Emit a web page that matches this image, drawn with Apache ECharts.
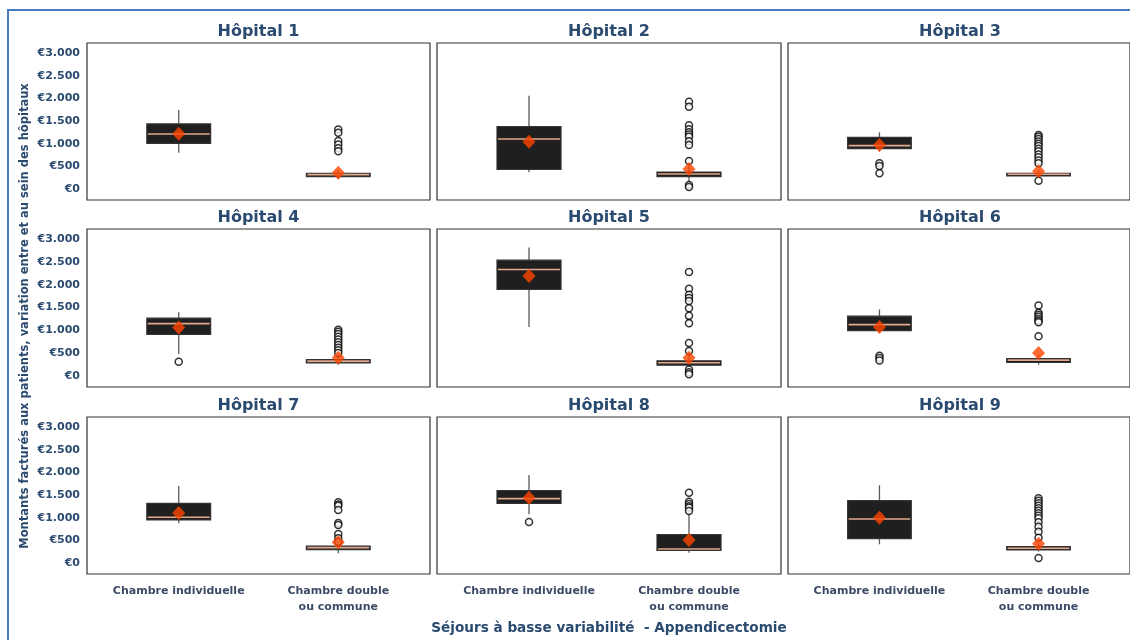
<!DOCTYPE html>
<html>
<head>
<meta charset="utf-8">
<script src="https://cdn.jsdelivr.net/npm/echarts@6/dist/echarts.min.js"></script>
<style>
  html, body { margin: 0; padding: 0; background: #ffffff; }
  #chart { width: 1130px; height: 640px; }
</style>
</head>
<body>
<div id="chart"></div>
<script>
// Hospitals shown in a 3x3 grid
const hospitals = ['Hôpital 1', 'Hôpital 2', 'Hôpital 3', 'Hôpital 4', 'Hôpital 5',
                   'Hôpital 6', 'Hôpital 7', 'Hôpital 8', 'Hôpital 9'];
const categories = ['Chambre individuelle', 'Chambre double\nou commune'];
const yTicks = [0, 500, 1000, 1500, 2000, 2500, 3000];

// Box statistics per hospital: [whisker low, Q1, median, Q3, whisker high]
const boxIndividuelle = [
  [801, 1008, 1213, 1434, 1743],
  [368, 434, 1103, 1375, 2058],
  [830, 890, 956, 1140, 1250],
  [478, 911, 1147, 1265, 1397],
  [1074, 1897, 2331, 2537, 2817],
  [941, 993, 1125, 1309, 1456],
  [876, 949, 1008, 1317, 1699],
  [1074, 1317, 1419, 1595, 1941],
  [412, 537, 971, 1375, 1713]
];
const boxDouble = [
  [220, 272, 316, 346, 420],
  [160, 272, 331, 375, 520],
  [240, 287, 324, 346, 420],
  [243, 287, 324, 360, 440],
  [180, 236, 287, 331, 460],
  [244, 294, 346, 382, 470],
  [213, 294, 338, 375, 440],
  [228, 280, 309, 625, 1096],
  [250, 287, 324, 360, 440]
];

// Mean amounts per hospital
const meanIndividuelle = [1220, 1044, 970, 1059, 2191, 1074, 1103, 1441, 1000];
const meanDouble = [360, 441, 390, 397, 397, 500, 456, 507, 426];

// Outlying stays per hospital
const outliersIndividuelle = [
  [],
  [],
  [566, 507, 346],
  [309],
  [],
  [440, 390, 340],
  [],
  [904],
  []
];
const outliersDouble = [
  [1310, 1240, 1060, 980, 900, 830],
  [1926, 1816, 1405, 1317, 1250, 1200, 1150, 1052, 970, 618, 88, 44],
  [1190, 1150, 1100, 1050, 1000, 950, 890, 830, 760, 700, 630, 570, 180],
  [1010, 970, 920, 860, 800, 740, 680, 620, 560, 500],
  [2279, 1912, 1780, 1710, 1640, 1485, 1316, 1154, 722, 546, 140, 81, 37],
  [1544, 1383, 1340, 1295, 1250, 1210, 1177, 867],
  [1339, 1290, 1265, 1169, 882, 838, 640, 544, 470],
  [1551, 1353, 1300, 1250, 1221, 1147],
  [1427, 1370, 1317, 1260, 1206, 1150, 1096, 1040, 985, 897, 801, 691, 559, 110]
];

const FONT = 'DejaVu Sans';
const NAVY = '#2b4a70';
const colLeft = [87, 437, 788];
const colWidth = [343, 344, 344];
const rowTop = [43, 229, 417];
const rowHeight = [157, 158, 157];

const fmtEuro = v => '€' + String(v).replace(/\B(?=(\d{3})+(?!\d))/g, '.');

const grids = [], xAxes = [], yAxes = [], series = [], titles = [];

hospitals.forEach((name, i) => {
  const r = Math.floor(i / 3), c = i % 3;
  grids.push({
    left: colLeft[c], top: rowTop[r], width: colWidth[c], height: rowHeight[r],
    show: true, borderColor: '#333333', borderWidth: 1.2, backgroundColor: '#ffffff'
  });
  xAxes.push({
    type: 'value', gridIndex: i, min: -0.575, max: 1.575,
    axisLine: { show: false }, axisTick: { show: false }, splitLine: { show: false },
    axisLabel: {
      show: r === 2, customValues: [0, 1], margin: 9,
      formatter: v => categories[Math.round(v)] || '',
      fontFamily: FONT, fontWeight: 'bold', fontSize: 11, color: '#3b4a66', lineHeight: 16
    }
  });
  yAxes.push({
    type: 'value', gridIndex: i, min: -243, max: 3220,
    axisLine: { show: false }, axisTick: { show: false }, splitLine: { show: false },
    axisLabel: {
      show: c === 0, customValues: yTicks, margin: 7, formatter: fmtEuro,
      fontFamily: FONT, fontWeight: 'bold', fontSize: 11, color: NAVY
    }
  });
  titles.push({
    text: name, left: colLeft[c] + colWidth[c] / 2, top: rowTop[r] - 19, textAlign: 'center',
    padding: 0,
    textStyle: { fontFamily: FONT, fontWeight: 'bold', fontSize: 16, color: NAVY }
  });

  // Boxes with whiskers (no caps) and median line
  series.push({
    type: 'custom', xAxisIndex: i, yAxisIndex: i, z: 2,
    encode: { x: 0, y: [1, 2, 3, 4, 5] },
    data: [[0].concat(boxIndividuelle[i]), [1].concat(boxDouble[i])],
    renderItem: (params, api) => {
      const x = api.value(0);
      const pMin = api.coord([x, api.value(1)]);
      const pQ1 = api.coord([x, api.value(2)]);
      const pMed = api.coord([x, api.value(3)]);
      const pQ3 = api.coord([x, api.value(4)]);
      const pMax = api.coord([x, api.value(5)]);
      const w = api.size([0.4, 0])[0];
      const cx = pQ1[0];
      return {
        type: 'group',
        children: [
          { type: 'line', shape: { x1: cx, y1: pQ3[1], x2: cx, y2: pMax[1] },
            style: { stroke: '#5a5a5a', lineWidth: 1.3 } },
          { type: 'line', shape: { x1: cx, y1: pQ1[1], x2: cx, y2: pMin[1] },
            style: { stroke: '#5a5a5a', lineWidth: 1.3 } },
          { type: 'rect', shape: { x: cx - w / 2, y: pQ3[1], width: w, height: pQ1[1] - pQ3[1] },
            style: { fill: '#1f1f1f', stroke: '#333333', lineWidth: 1.2 } },
          { type: 'line', shape: { x1: cx - w / 2 + 1, y1: pMed[1], x2: cx + w / 2 - 1, y2: pMed[1] },
            style: { stroke: '#e2a98c', lineWidth: 1.6 } }
        ]
      };
    }
  });

  // Outliers
  const outs = outliersIndividuelle[i].map(v => [0, v])
    .concat(outliersDouble[i].map(v => [1, v]));
  series.push({
    type: 'scatter', xAxisIndex: i, yAxisIndex: i, z: 3,
    symbol: 'circle', symbolSize: 7,
    itemStyle: { color: '#ffffff', borderColor: '#000000', borderWidth: 1.5 },
    data: outs
  });

  // Means
  series.push({
    type: 'scatter', xAxisIndex: i, yAxisIndex: i, z: 4,
    symbol: 'diamond', symbolSize: [13, 14],
    itemStyle: { color: '#ff4500' },
    data: [[0, meanIndividuelle[i]], [1, meanDouble[i]]]
  });
});

const chart = echarts.init(document.getElementById('chart'), null, { renderer: 'canvas' });
chart.setOption({
  animation: false,
  backgroundColor: '#ffffff',
  title: titles,
  grid: grids,
  xAxis: xAxes,
  yAxis: yAxes,
  series: series,
  graphic: [
    { type: 'rect', silent: true, z: -1,
      shape: { x: 8, y: 10, width: 1140, height: 660 },
      style: { fill: 'none', stroke: '#4a7cc6', lineWidth: 2 } },
    { type: 'text', x: 25, y: 316, rotation: Math.PI / 2,
      style: { text: 'Montants facturés aux patients, variation entre et au sein des hôpitaux',
               font: 'bold 11.5px "DejaVu Sans"', fill: NAVY, align: 'center', verticalAlign: 'middle' } },
    { type: 'text', x: 609, y: 628,
      style: { text: 'Séjours à basse variabilité  - Appendicectomie',
               font: 'bold 13.6px "DejaVu Sans"', fill: NAVY, align: 'center', verticalAlign: 'middle' } }
  ]
});
</script>
</body>
</html>
